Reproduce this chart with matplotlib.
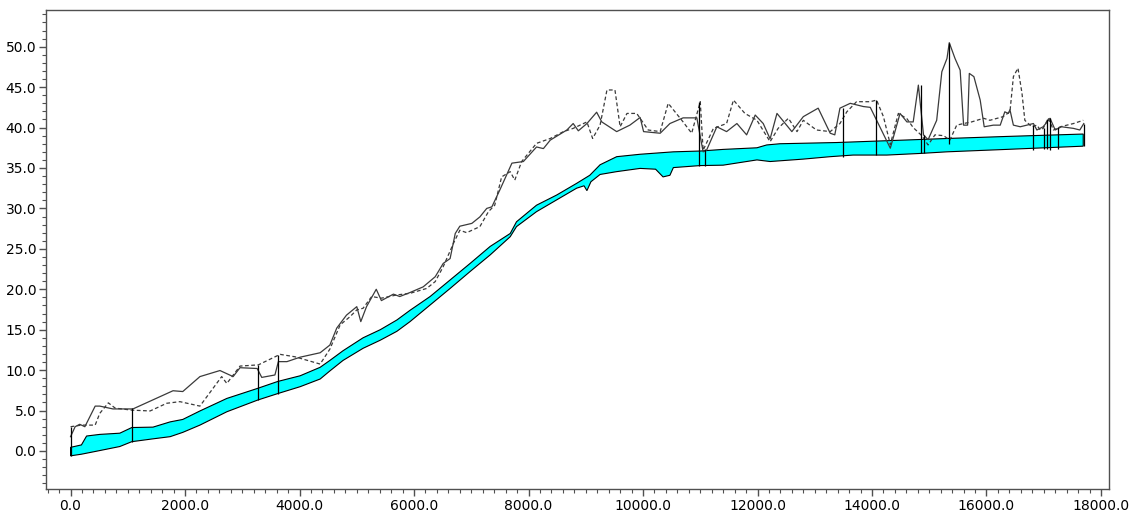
import matplotlib
matplotlib.use("Agg")
import matplotlib.pyplot as plt
import numpy as np
from matplotlib.ticker import MultipleLocator, FormatStrFormatter

# band (cyan) upper and lower edges
band_top_x = [0, 190, 280, 510, 860, 1070, 1440, 1740, 1960, 2260, 2730, 3270, 3620, 4010,
              4360, 4530, 4760, 5110, 5410, 5700, 5930, 6280, 6630, 6980, 7330, 7680, 7790,
              8140, 8490, 8840, 9070, 9250, 9540, 9950, 10530, 11000, 11400, 11990, 12160,
              12390, 13380, 14550, 15310, 16340, 17690]
band_top_y = [0.45, 0.75, 1.85, 2.05, 2.2, 2.9, 2.95, 3.6, 3.9, 4.95, 6.5, 7.75, 8.6, 9.3,
              10.35, 11.2, 12.4, 14.0, 15.0, 16.2, 17.4, 19.1, 21.15, 23.2, 25.3, 26.9, 28.35,
              30.4, 31.65, 33.1, 34.1, 35.4, 36.4, 36.7, 37.0, 37.1, 37.3, 37.5, 37.85,
              38.0, 38.15, 38.45, 38.65, 38.9, 39.2]

band_bot_x = [0, 190, 510, 860, 1070, 1440, 1740, 1960, 2260, 2730, 3270, 3620, 4010, 4360,
              4530, 4760, 5110, 5410, 5700, 5930, 6280, 6630, 6980, 7330, 7680, 7790, 8140,
              8490, 8840, 8970, 9020, 9090, 9250, 9540, 9950, 10220, 10350, 10470, 10530,
              11000, 11400, 11990, 12220, 12800, 13270, 13670, 14260, 14840, 15310, 16350, 17690]
band_bot_y = [-0.6, -0.4, 0.05, 0.55, 1.15, 1.5, 1.77, 2.3, 3.2, 4.85, 6.3, 7.1, 7.95, 8.9,
              9.9, 11.2, 12.7, 13.7, 14.8, 16.0, 18.05, 20.1, 22.2, 24.25, 26.5, 27.75, 29.6,
              31.05, 32.5, 32.8, 32.2, 33.3, 34.2, 34.55, 34.95, 34.85, 33.9, 34.1, 35.05,
              35.3, 35.35, 36.0, 35.8, 36.1, 36.4, 36.6, 36.6, 36.8, 37.0, 37.3, 37.7]

# solid line
solid_x = [0, 80, 160, 250, 430, 510, 740, 1090, 1790, 1960, 2260, 2610, 2840, 2960, 3260,
           3340, 3570, 3630, 3780, 4010, 4360, 4530, 4650, 4820, 5000, 5070, 5170, 5340,
           5430, 5640, 5750, 5930, 6160, 6370, 6510, 6630, 6720, 6800, 7010, 7150, 7270,
           7360, 7500, 7710, 7910, 8140, 8260, 8380, 8670, 8780, 8870, 9020, 9190, 9280,
           9540, 9770, 9950, 10010, 10300, 10470, 10700, 10940, 11050, 11110, 11290, 11460,
           11640, 11810, 11960, 12100, 12220, 12340, 12600, 12800, 13060, 13270, 13350,
           13440, 13620, 13850, 13970, 14320, 14490, 14610, 14720, 14810, 14900, 14980,
           15130, 15220, 15310, 15350, 15450, 15540, 15600, 15670, 15700, 15780, 15890,
           15960, 16120, 16240, 16320, 16380, 16410, 16470, 16590, 16820, 16880, 16990,
           17110, 17200, 17310, 17520, 17630, 17700]
solid_y = [1.77, 3.0, 3.3, 3.0, 5.55, 5.55, 5.2, 5.2, 7.45, 7.35, 9.2, 9.95, 9.2, 10.3, 10.2,
           9.1, 9.4, 11.05, 11.05, 11.6, 12.15, 13.1, 15.2, 16.8, 17.85, 16.0, 17.85, 20.0,
           18.6, 19.4, 19.1, 19.6, 20.3, 21.55, 23.2, 23.8, 26.9, 27.8, 28.15, 28.95, 30.0,
           30.2, 32.3, 35.6, 35.8, 37.6, 37.4, 38.45, 39.7, 40.5, 39.6, 40.5, 41.9, 40.7,
           39.5, 40.3, 41.25, 39.5, 39.3, 40.5, 41.2, 41.2, 37.0, 37.2, 40.1, 39.5,
           40.5, 39.1, 41.55, 40.5, 38.6, 41.75, 39.5, 41.35, 42.4, 39.3, 39.1,
           42.4, 43.0, 42.6, 42.5, 37.45, 41.75, 40.7, 40.7, 45.25, 39.1, 38.5,
           40.9, 46.9, 48.55, 50.5, 48.55, 47.1, 40.3, 40.3, 46.7, 46.3, 43.4,
           40.1, 40.3, 40.3, 41.95, 41.75, 42.2, 40.3, 40.1, 40.5, 39.7, 40.1,
           41.15, 39.7, 40.1, 39.9, 39.7, 40.5]

# dashed line
dash_x = [0, 190, 430, 510, 660, 780, 1070, 1390, 1680, 1910, 2260, 2640, 2730, 2960, 3280,
          3660, 3920, 4360, 4530, 4710, 4880, 5000, 5110, 5260, 5430, 5700, 5930, 6220,
          6370, 6510, 6690, 6800, 6920, 7150, 7300, 7410, 7530, 7680, 7760, 7880, 8140,
          8380, 8610, 8780, 9020, 9120, 9250, 9370, 9510, 9600, 9720, 9890, 10090, 10300,
          10440, 10700, 10850, 11000, 11050, 11230, 11460, 11580, 11780, 11990, 12220,
          12360, 12540, 12690, 12800, 13030, 13270, 13440, 13560, 13730, 13970, 14080,
          14200, 14320, 14460, 14610, 14720, 14870, 14980, 15100, 15250, 15360, 15480,
          15600, 15740, 15950, 16060, 16290, 16410, 16470, 16550, 16620, 16670, 16790,
          16880, 16940, 16990, 17080, 17170, 17290, 17520, 17690]
dash_y = [3.0, 3.2, 3.2, 4.65, 5.95, 5.3, 5.05, 4.95, 5.9, 6.1, 5.55, 9.2, 8.35, 10.5, 10.65,
          11.95, 11.65, 10.75, 12.6, 15.6, 16.6, 17.45, 17.65, 19.1, 18.9, 19.3, 19.5, 20.1,
          20.95, 22.8, 25.7, 27.3, 27.0, 27.75, 29.6, 30.4, 33.9, 34.55, 33.5, 35.8, 38.05,
          38.65, 39.5, 39.9, 40.7, 38.65, 40.3, 44.65, 44.65, 40.1, 41.75, 41.75, 39.7, 39.5,
          43.0, 40.7, 39.3, 43.2, 37.2, 39.9, 40.5, 43.4, 41.75, 40.9, 38.25,
          39.9, 41.15, 39.5, 40.9, 39.7, 39.5, 40.5, 41.95, 43.2, 43.2, 43.4,
          41.35, 37.9, 41.75, 41.1, 40.0, 39.0, 37.85, 39.1, 39.0, 38.45, 40.3,
          40.5, 40.7, 41.15, 40.9, 41.35, 41.95, 46.3, 47.35, 44.25, 40.9, 40.1,
          40.3, 39.7, 39.9, 41.15, 39.7, 40.1, 40.5, 40.9]

# vertical markers
vert_x = [0, 1070, 3270, 3630, 10970, 11080, 13490, 14070, 14850, 14900, 15350,
          16810, 17000, 17060, 17110, 17250, 17700]
vert_top = [3.0, 5.3, 10.65, 11.85, 43.2, 37.4, 42.4, 43.4, 45.25, 39.1, 50.5,
            40.3, 39.9, 41.0, 41.15, 40.1, 40.5]
vert_bot = [-0.6, 1.15, 6.3, 7.1, 35.3, 35.3, 36.3, 36.6, 36.8, 36.8, 38.0,
            37.2, 37.3, 37.3, 37.2, 37.4, 37.7]

plt.rcParams["font.family"] = ["DejaVu Sans"]

fig = plt.figure(figsize=(11.4, 5.11), dpi=100)
ax = fig.add_axes([0.0404, 0.0431, 0.9324, 0.9373])

poly_x = np.r_[band_top_x, band_bot_x[::-1]]
poly_y = np.r_[band_top_y, band_bot_y[::-1]]
ax.fill(poly_x, poly_y, facecolor="#00FFFF", edgecolor="black", linewidth=0.8, zorder=2)

ax.plot(solid_x, solid_y, color="#3a3a3a", linewidth=0.9, zorder=3)
ax.plot(dash_x, dash_y, color="#3a3a3a", linewidth=0.9, linestyle=(0, (3, 2)), zorder=3)
ax.vlines(vert_x, vert_bot, vert_top, color="black", linewidth=0.9, zorder=4)

ax.set_xlim(-428, 18140)
ax.set_ylim(-4.7, 54.54)

ax.xaxis.set_major_locator(MultipleLocator(2000))
ax.xaxis.set_minor_locator(MultipleLocator(200))
ax.yaxis.set_major_locator(MultipleLocator(5))
ax.yaxis.set_minor_locator(MultipleLocator(1))
ax.xaxis.set_major_formatter(FormatStrFormatter("%.1f"))
ax.yaxis.set_major_formatter(FormatStrFormatter("%.1f"))

for sp in ax.spines.values():
    sp.set_color("#505050")
    sp.set_linewidth(1.0)
ax.tick_params(which="major", length=5, width=1, color="#505050", labelsize=10, pad=2)
ax.tick_params(which="minor", length=3, width=0.8, color="#505050")

fig.savefig("out.png", dpi=100)
